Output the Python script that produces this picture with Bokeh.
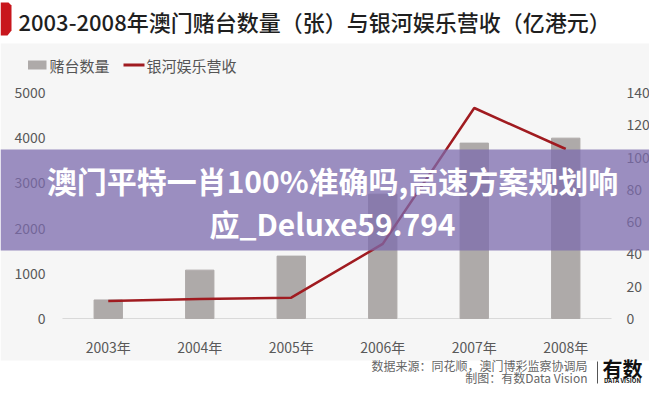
from bokeh.plotting import figure
from bokeh.models import Range1d
from bokeh.core.properties import value
from bokeh.embed import file_html
from bokeh.resources import INLINE

# ---- data ----
years = ["2003年", "2004年", "2005年", "2006年", "2007年", "2008年"]
tables = [410, 1070, 1380, 2750, 3880, 3990]          # 赌台数量（张）
revenue = [10.8, 12.1, 12.9, 46.2, 130.4, 105.0]       # 银河娱乐营收（亿港元）
left_ticks = [0, 1000, 2000, 3000, 4000, 5000]
right_ticks = [0, 20, 40, 60, 80, 100, 120, 140]

title_text = "2003-2008年澳门赌台数量（张）与银河娱乐营收（亿港元）"
legend_bar = "赌台数量"
legend_line = "银河娱乐营收"
band_line1 = "澳门平特一肖100%准确吗,高速方案规划响"
band_line2 = "应_Deluxe59.794"
source_text = "数据来源：同花顺，澳门博彩监察协调局"
maker_text = "制图：有数Data Vision"

FONT = value("Noto Sans CJK SC")
TITLE_FONT = value("Noto Sans CJK SC Medium")
W, H = 649, 384
BG = "#f6f6f6"
BAR = "#aeaaa9"
RED = "#a01b20"
TICK = "#595959"

# plot-area geometry in canvas pixels (from top-left)
PL, PR = 62, 611          # left / right edge of plotting area
PT, PB = 92, 318          # pixel rows of axis max / zero
band = (PR - PL) / len(years)

xs = list(range(len(years)))
x0 = -0.5 - PL / band
x1 = len(years) - 0.5 + (W - PR) / band
ymax, rmax = left_ticks[-1], right_ticks[-1]
ppu_l = (PB - PT) / ymax
ppu_r = (PB - PT) / rmax

p = figure(width=W, height=H, x_range=Range1d(x0, x1),
           y_range=Range1d(-(H - PB) / ppu_l, ymax + PT / ppu_l),
           output_backend="svg", toolbar_location=None,
           x_axis_location=None, y_axis_location=None,
           min_border=0, title=None, background_fill_color="white",
           border_fill_color="white")
p.extra_y_ranges = {"right": Range1d(-(H - PB) / ppu_r, rmax + PT / ppu_r),
                    "py": Range1d(H, 0)}
p.extra_x_ranges = {"px": Range1d(0, W)}
p.outline_line_color = None
p.xgrid.grid_line_color = None
p.ygrid.grid_line_color = None

PX = dict(x_range_name="px", y_range_name="py")

def txt(x, y, text, size, color, align="left", style="normal", font=FONT, **kw):
    args = dict(x_range_name="px", y_range_name="py")
    args.update(kw)
    p.text(x=x, y=y, text=text, text_font=font, text_font_size=size,
           text_color=color, text_align=align, text_baseline="middle",
           text_font_style=style, **args)

# gray panel behind chart
p.quad(left=[0], right=[W], top=[43], bottom=[360], fill_color=BG, line_color=None, **PX)

# baseline
p.segment(x0=[-0.5], x1=[len(years) - 0.5], y0=[0], y1=[0], line_color="#d9d9d9", line_width=1)

# bars and line
p.vbar(x=xs, top=tables, width=0.31, color=BAR)
p.line(x=xs, y=revenue, y_range_name="right", line_color=RED, line_width=2.5)

# axis tick labels
txt([PL - 17] * len(left_ticks), left_ticks, [str(t) for t in left_ticks], "14px", TICK,
    align="right", y_range_name="default")
txt([PR + 15] * len(right_ticks), right_ticks, [str(t) for t in right_ticks], "14px", TICK,
    align="left", y_range_name="right")
txt(xs, [PB + 28] * len(years), years, "14px", TICK, align="center", x_range_name="default")

# title and red marker
p.patch(x=[0, 8, 11, 11, 7, 0], y=[2, 2, 5, 30, 35, 35], fill_color="#c8161d",
        line_color=None, **PX)
txt([18], [20], [title_text], "22px", "#1f1f1f", font=TITLE_FONT)

# legend
p.quad(left=[27.5], right=[46], top=[60], bottom=[69], fill_color=BAR, line_color=None, **PX)
txt([49], [65], [legend_bar], "15px", "#555555")
p.segment(x0=[123], x1=[144], y0=[64.5], y1=[64.5], line_color=RED, line_width=3, **PX)
txt([146], [65], [legend_line], "15px", "#555555")

# footer
txt([587], [365], [source_text], "12px", "#666666", align="right")
txt([587], [376.5], [maker_text], "12px", "#666666", align="right")
p.segment(x0=[597], x1=[597], y0=[361], y1=[383], line_color="#555555", line_width=1, **PX)
txt([622], [368], ["有数"], "20px", "#111111", align="center", style="bold")
txt([622], [380], ["DATA VISION"], "6px", "#111111", align="center", style="bold")

# overlay band
p.quad(left=[0], right=[W], top=[149], bottom=[250], fill_color="rgb(124,107,174)",
       fill_alpha=0.75, line_color=None, **PX)
txt([332], [179], [band_line1], "30px", "white", align="center", style="bold")
txt([332], [222], [band_line2], "30px", "white", align="center", style="bold")

open("out.html", "w").write(file_html(p, INLINE))
